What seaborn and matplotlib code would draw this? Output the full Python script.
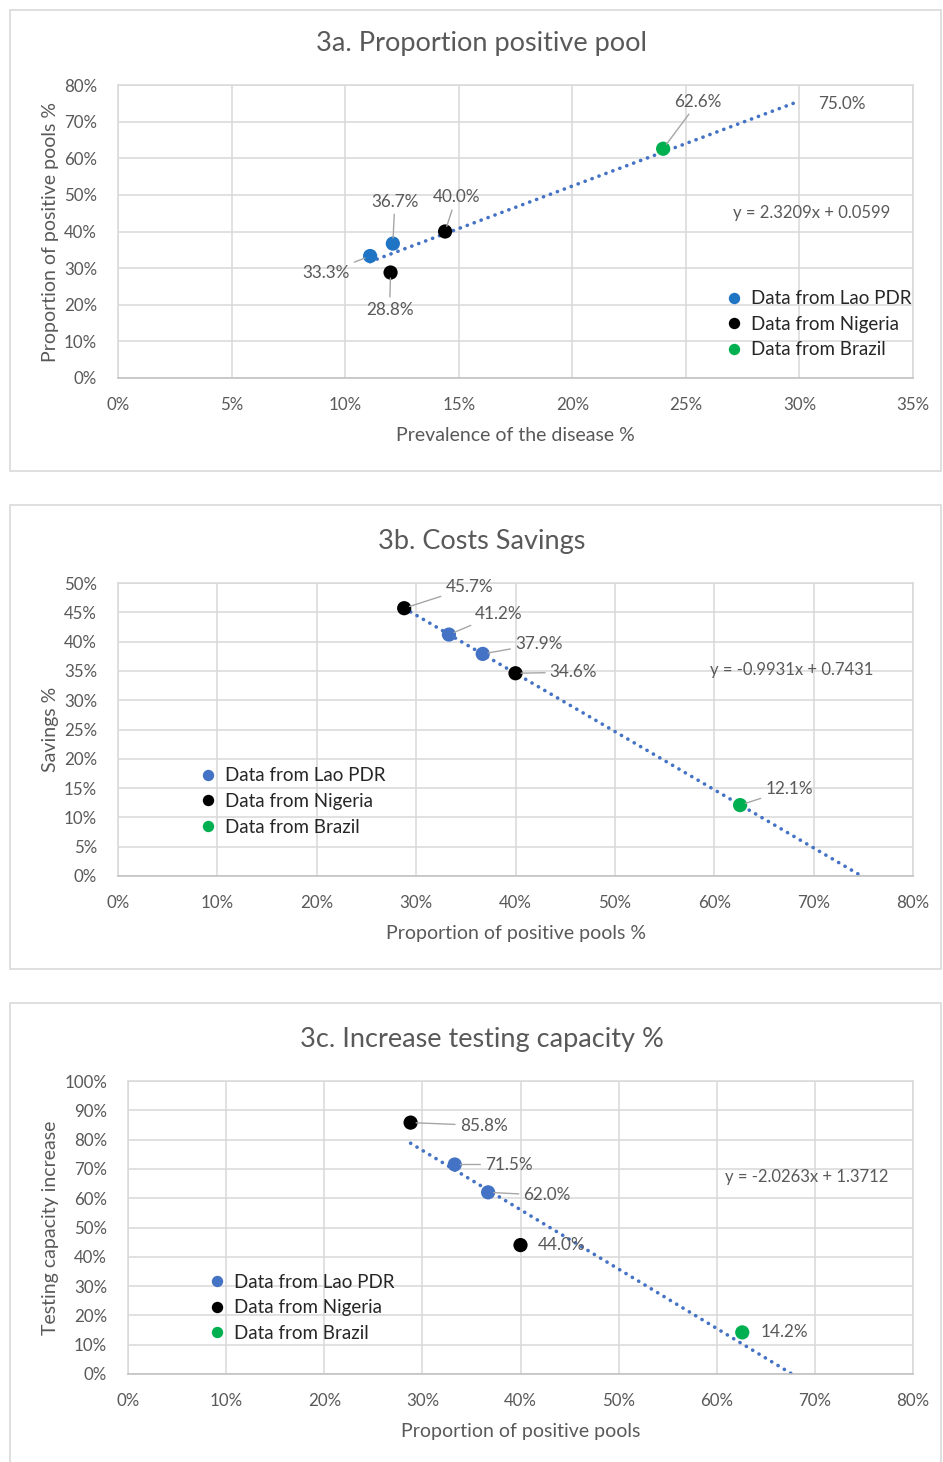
import numpy as np
import pandas as pd
import matplotlib
matplotlib.use("Agg")
import matplotlib.pyplot as plt
from matplotlib.patches import Rectangle
from matplotlib.ticker import PercentFormatter, MultipleLocator
import seaborn as sns

# ---------------- data ----------------
countries = ["Data from Lao PDR", "Data from Nigeria", "Data from Brazil"]
point_country = ["Data from Lao PDR", "Data from Lao PDR",
                 "Data from Nigeria", "Data from Nigeria",
                 "Data from Brazil"]
prevalence = [11.1, 12.1, 12.0, 14.4, 24.0]          # % (3a x)
positive_pools = [33.3, 36.7, 28.8, 40.0, 62.6]      # % (3a y, 3b/3c x)
savings = [41.2, 37.9, 45.7, 34.6, 12.1]             # % (3b y)
capacity = [71.5, 62.0, 85.8, 44.0, 14.2]            # % (3c y)

trend_slopes = [2.3209, -0.9931, -2.0263]
trend_intercepts = [0.0599, 0.7431, 1.3712]
trend_labels = ["y = 2.3209x + 0.0599", "y = -0.9931x + 0.7431", "y = -2.0263x + 1.3712"]
forecast_end_3a = 30.0
forecast_label_3a = "75.0%"

titles = ["3a. Proportion positive pool", "3b. Costs Savings", "3c. Increase testing capacity %"]
xlabels = ["Prevalence of the disease %", "Proportion of positive pools %", "Proportion of positive pools"]
ylabels = ["Proportion of positive pools %", "Savings %", "Testing capacity increase"]

df = pd.DataFrame({"country": point_country, "prevalence": prevalence,
                   "positive": positive_pools, "savings": savings, "capacity": capacity})

# ---------------- style ----------------
sns.set_theme(style="white")
plt.rcParams["font.family"] = ["Lato", "DejaVu Sans"]

W, H = 943, 1462
fig = plt.figure(figsize=(W / 100, H / 100), dpi=100)

GRID = "#D9D9D9"
TXT = "#595959"
LEAD = "#A6A6A6"
TREND = "#4472C4"

def fx(px):
    return px / W

def fy(py):
    return 1 - py / H

# panel boxes
for top, bot in [(10, 471), (505, 969), (1003, 1475)]:
    fig.patches.append(Rectangle((fx(10), fy(bot)), fx(941) - fx(10), fy(top) - fy(bot),
                                 transform=fig.transFigure, fill=False,
                                 edgecolor="#D9D9D9", lw=1.2))

def make_axes(left, right, top, bottom):
    return fig.add_axes([fx(left), fy(bottom), fx(right) - fx(left), fy(top) - fy(bottom)])

def style_axes(ax, xmax, xstep, ymax, ystep, xlab, ylab, ylab_x):
    ax.set_xlim(0, xmax)
    ax.set_ylim(0, ymax)
    ax.xaxis.set_major_locator(MultipleLocator(xstep))
    ax.yaxis.set_major_locator(MultipleLocator(ystep))
    ax.xaxis.set_major_formatter(PercentFormatter(xmax=100, decimals=0))
    ax.yaxis.set_major_formatter(PercentFormatter(xmax=100, decimals=0))
    ax.grid(True, color=GRID, lw=1.1)
    ax.set_axisbelow(True)
    for s in ax.spines.values():
        s.set_color(GRID)
        s.set_linewidth(1.1)
    ax.spines["bottom"].set_color("#BFBFBF")
    ax.tick_params(axis="both", length=0, labelsize=12.2, labelcolor=TXT)
    ax.tick_params(axis="x", pad=14)
    ax.tick_params(axis="y", pad=15)
    ax.set_xlabel(xlab, fontsize=14, color=TXT)
    ax.set_ylabel(ylab, fontsize=14, color=TXT)
    ax.xaxis.set_label_coords(0.5, -0.168)
    ax.yaxis.set_label_coords(ylab_x, 0.5)

def draw_panel(ax, xcol, ycol, lao_color, idx, x0, x1, offsets, leaders,
               legend_anchor, eq_pos):
    palette = {countries[0]: lao_color, countries[1]: "#000000", countries[2]: "#00B050"}
    sl, ic = trend_slopes[idx], trend_intercepts[idx]
    xs = np.linspace(x0, x1, 100)
    ax.plot(xs, (sl * xs / 100 + ic) * 100, color=TREND, lw=2.6, ls=(0, (0.05, 2.0)),
            dash_capstyle="round", zorder=2)
    sns.scatterplot(data=df, x=xcol, y=ycol, hue="country", hue_order=countries,
                    palette=palette, s=105, edgecolor="none", ax=ax, zorder=3)
    for i, row in df.iterrows():
        dx, dy = offsets[i]
        ap = dict(arrowstyle="-", color=LEAD, lw=1, shrinkA=1, shrinkB=4) if leaders[i] else None
        ax.annotate(f"{row[ycol]:.1f}%", (row[xcol], row[ycol]), xytext=(dx, dy),
                    textcoords="offset pixels", ha="center", va="center",
                    fontsize=12.3, color=TXT, arrowprops=ap, zorder=4)
    ax.text(eq_pos[0], eq_pos[1], trend_labels[idx], transform=ax.transAxes,
            ha="center", va="center", fontsize=12, color=TXT)
    leg = ax.legend(loc="upper left", bbox_to_anchor=legend_anchor, frameon=False,
                    borderaxespad=0, borderpad=0, handlelength=0.6, handletextpad=0.6,
                    labelspacing=0.46, fontsize=13.5, markerscale=0.8)
    for t in leg.get_texts():
        t.set_color("#262626")
    for h, c in zip(leg.legend_handles, countries):
        h.set_color(palette[c] if c != countries[0] else "#4472C4")

# ---------- 3a ----------
ax1 = make_axes(118, 913, 85, 378)
draw_panel(ax1, "prevalence", "positive", "#1F74C4", 0,
           min(prevalence), forecast_end_3a,
           offsets=[(-44, -17), (2, 42), (-1, -37), (11, 34), (35, 47)],
           leaders=[True, True, True, True, True],
           legend_anchor=(0.768, 0.30), eq_pos=(0.872, 0.563))
ax1.text(0.911, 0.935, forecast_label_3a, transform=ax1.transAxes, ha="center",
         va="center", fontsize=12.3, color=TXT)
style_axes(ax1, 35, 5, 80, 10, xlabels[0], ylabels[0], -0.074)

# ---------- 3b ----------
ax2 = make_axes(118, 913, 583, 876)
end_b = -trend_intercepts[1] / trend_slopes[1] * 100
draw_panel(ax2, "positive", "savings", "#4472C4", 1,
           min(positive_pools), end_b,
           offsets=[(50, 21), (56, 10), (65, 21), (58, 1), (49, 16)],
           leaders=[True, True, True, True, True],
           legend_anchor=(0.106, 0.371), eq_pos=(0.847, 0.703))
style_axes(ax2, 80, 10, 50, 5, xlabels[1], ylabels[1], -0.074)

# ---------- 3c ----------
ax3 = make_axes(128, 913, 1081, 1374)
end_c = -trend_intercepts[2] / trend_slopes[2] * 100
draw_panel(ax3, "positive", "capacity", "#4472C4", 2,
           min(positive_pools), end_c,
           offsets=[(54, 0), (59, -3), (73, -3), (41, 0), (42, 0)],
           leaders=[True, True, True, False, False],
           legend_anchor=(0.106, 0.343), eq_pos=(0.864, 0.672))
style_axes(ax3, 80, 10, 100, 10, xlabels[2], ylabels[2], -0.088)

# titles
for ty, t in zip([43, 541, 1039], titles):
    fig.text(fx(482), fy(ty), t, ha="center", va="center", fontsize=19.5, color=TXT)

fig.savefig("out.png", dpi=100, facecolor="white")
